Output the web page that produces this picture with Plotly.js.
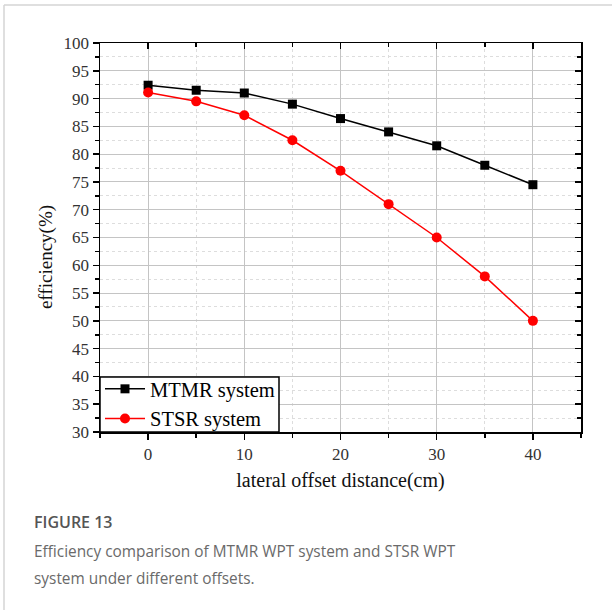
<!DOCTYPE html>
<html>
<head>
<meta charset="utf-8">
<script src="https://cdn.plot.ly/plotly-3.0.1.min.js"></script>
<style>html,body{margin:0;padding:0;background:#fff;}</style>
</head>
<body>
<div id="chart" style="width:612px;height:610px;"></div>
<script>
const offsets = [0, 5, 10, 15, 20, 25, 30, 35, 40];
const mtmrEff = [92.4, 91.5, 91.0, 89.0, 86.4, 84.0, 81.5, 78.0, 74.5];
const stsrEff = [91.1, 89.5, 87.0, 82.5, 77.0, 71.0, 65.0, 58.0, 50.0];
const seriesNames = ["MTMR system", "STSR system"];
const xTitle = "lateral offset distance(cm)";
const yTitle = "efficiency(%)";
const figLabel = "FIGURE 13";
const captionLines = ["Efficiency comparison of MTMR WPT system and STSR WPT", "system under different offsets."];

const W = 612, H = 610;
const L = 100, R = 31, T = 43, B = 178;
const pw = W - L - R, ph = H - T - B;
const px = v => (v - L) / pw;
const py = v => (H - B - v) / ph;

const serif = "Liberation Serif, Times New Roman, serif";
const sans = "Open Sans, Noto Sans, sans-serif";

const traces = [
  {x: offsets, y: mtmrEff, name: seriesNames[0], type: "scatter", mode: "lines+markers",
   line: {color: "#000000", width: 1.5}, marker: {symbol: "square", size: 9, color: "#000000"}},
  {x: offsets, y: stsrEff, name: seriesNames[1], type: "scatter", mode: "lines+markers",
   line: {color: "#ff0000", width: 1.5}, marker: {symbol: "circle", size: 10, color: "#ff0000"}},
  {x: [null], y: [null], xaxis: "x2", yaxis: "y2", showlegend: false, hoverinfo: "skip", mode: "markers"}
];

const layout = {
  width: W, height: H,
  margin: {l: L, r: R, t: T, b: B, pad: 0},
  paper_bgcolor: "#ffffff", plot_bgcolor: "#ffffff",
  showlegend: true,
  legend: {x: 0, y: py(404), xanchor: "left", yanchor: "middle", bgcolor: "rgba(0,0,0,0)",
    borderwidth: 0, font: {family: serif, size: 20.5, color: "#000000"},
    itemwidth: 40, tracegroupgap: 0},
  xaxis: {range: [-5, 45], dtick: 10, tick0: 0, showline: true, linecolor: "#000", linewidth: 1.5,
    mirror: true, ticks: "outside", ticklen: 6, tickwidth: 1.5, tickcolor: "#000",
    showgrid: true, gridcolor: "#c4c4c4", gridwidth: 1, zeroline: false,
    tickfont: {family: serif, size: 17, color: "#333"},
    minor: {dtick: 5, ticks: "outside", ticklen: 4, tickwidth: 1.5, tickcolor: "#000",
      showgrid: true, gridcolor: "#dddddd", griddash: "dot", gridwidth: 1},
    title: {text: xTitle, font: {family: serif, size: 20, color: "#111"}, standoff: 10}},
  yaxis: {range: [30, 100], dtick: 5, tick0: 30, showline: true, linecolor: "#000", linewidth: 1.5,
    mirror: true, ticks: "outside", ticklen: 6, tickwidth: 1.5, tickcolor: "#000",
    showgrid: true, gridcolor: "#c4c4c4", gridwidth: 1, zeroline: false,
    tickfont: {family: serif, size: 17, color: "#333"},
    minor: {dtick: 2.5, ticks: "outside", ticklen: 4, tickwidth: 1.5, tickcolor: "#000",
      showgrid: true, gridcolor: "#dddddd", griddash: "dot", gridwidth: 1}},
  xaxis2: {overlaying: "x", side: "top", range: [-5, 45], dtick: 10, tick0: 0, showticklabels: false,
    ticks: "inside", ticklen: 6, tickwidth: 1.5, tickcolor: "#000", showgrid: false, zeroline: false,
    showline: false, minor: {dtick: 5, ticks: "inside", ticklen: 4, tickwidth: 1.5, tickcolor: "#000", showgrid: false}},
  yaxis2: {overlaying: "y", side: "right", range: [30, 100], dtick: 5, tick0: 30, showticklabels: false,
    ticks: "inside", ticklen: 6, tickwidth: 1.5, tickcolor: "#000", showgrid: false, zeroline: false,
    showline: false, minor: {dtick: 2.5, ticks: "inside", ticklen: 4, tickwidth: 1.5, tickcolor: "#000", showgrid: false}},
  shapes: [
    {type: "line", xref: "paper", yref: "paper", x0: px(4), x1: px(612), y0: py(5), y1: py(5),
     line: {color: "#d4d4d4", width: 1.5}},
    {type: "line", xref: "paper", yref: "paper", x0: px(4), x1: px(4), y0: py(5), y1: py(610),
     line: {color: "#d4d4d4", width: 1.5}},
    {type: "rect", xref: "paper", yref: "paper", layer: "above", x0: 0, x1: px(279), y0: 0, y1: py(377),
     fillcolor: "#ffffff", line: {color: "#000000", width: 1.5}}
  ],
  annotations: [
    {text: yTitle, xref: "paper", yref: "paper", x: px(46), y: py(257), xanchor: "center", yanchor: "middle",
     textangle: -90, showarrow: false, font: {family: serif, size: 19, color: "#111"}},
    {text: figLabel, xref: "paper", yref: "paper", x: px(32), y: py(522), xanchor: "left", yanchor: "middle",
     showarrow: false, font: {family: sans, size: 16, color: "#555555", weight: 600}},
    {text: captionLines[0], xref: "paper", yref: "paper", x: px(32), y: py(551), xanchor: "left", yanchor: "middle",
     showarrow: false, font: {family: sans, size: 15.4, color: "#6a6a6a"}},
    {text: captionLines[1], xref: "paper", yref: "paper", x: px(32), y: py(578), xanchor: "left", yanchor: "middle",
     showarrow: false, font: {family: sans, size: 15.4, color: "#6a6a6a"}}
  ]
};

Plotly.newPlot("chart", traces, layout, {displayModeBar: false, staticPlot: true});
</script>
</body>
</html>
